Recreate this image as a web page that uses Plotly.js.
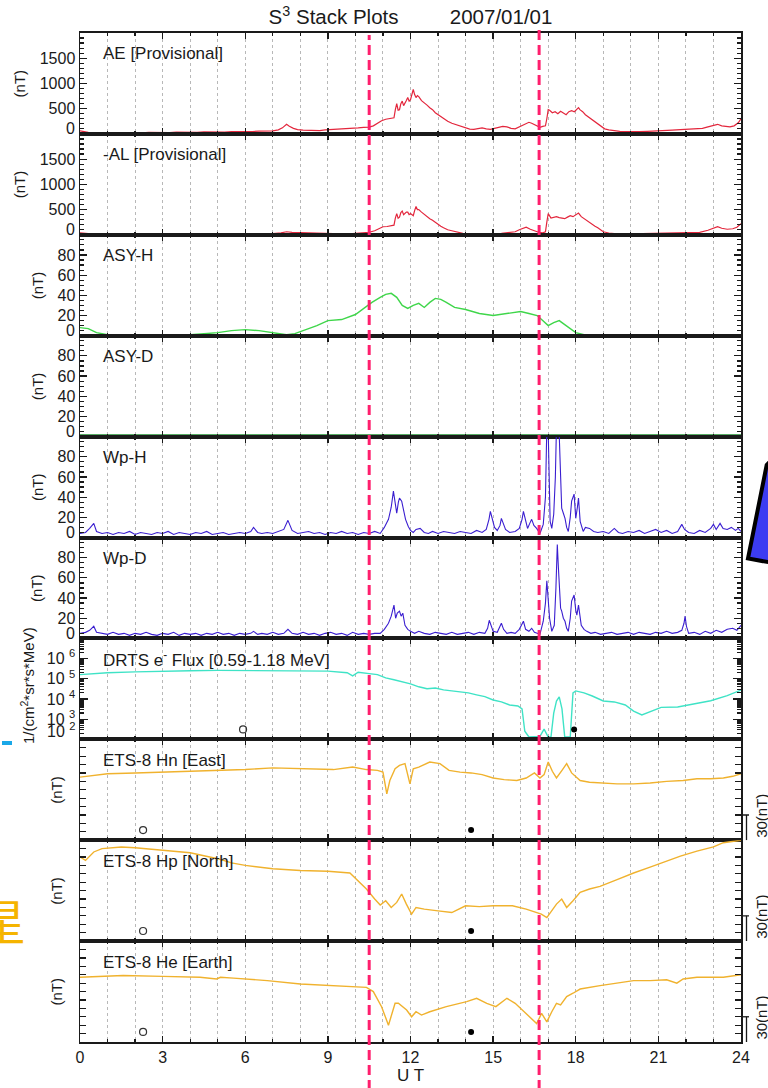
<!DOCTYPE html>
<html>
<head>
<meta charset="utf-8">
<script src="https://cdn.plot.ly/plotly-3.0.1.min.js"></script>
<style>html,body{margin:0;padding:0;background:#fff;}#chart{width:768px;height:1088px;}</style>
</head>
<body>
<div id="chart"></div>
<script>
// ---------------- DATA ----------------
const panelLabels = ["AE [Provisional]", "-AL [Provisional]", "ASY-H", "ASY-D", "Wp-H", "Wp-D",
  "DRTS e<sup>-</sup> Flux [0.59-1.18 MeV]", "ETS-8 Hn [East]", "ETS-8 Hp [North]", "ETS-8 He [Earth]"];
const xTickVals = [0, 3, 6, 9, 12, 15, 18, 21, 24];

// [UT hour, nT]
const aePts = [[0,60],[0.15,45],[0.3,30],[0.5,25],[0.75,20],[1,22],[1.25,18],[1.5,25],[1.75,20],[2,28],
  [2.25,22],[2.5,30],[2.75,25],[3,30],[3.25,28],[3.5,35],[3.75,30],[4,38],[4.25,33],[4.5,40],
  [4.75,36],[5,42],[5.25,38],[5.5,45],[5.75,42],[6,50],[6.25,46],[6.5,55],[6.75,52],[7,60],
  [7.2,80],[7.35,120],[7.5,190],[7.6,150],[7.75,110],[7.9,85],[8.1,75],[8.3,70],[8.5,75],[8.7,65],
  [8.9,80],[9.1,85],[9.3,90],[9.5,95],[9.7,105],[9.9,110],[10.1,120],[10.3,130],[10.5,135],[10.65,160],
  [10.8,210],[10.95,260],[11.1,290],[11.25,300],[11.4,320],[11.45,480],[11.5,600],[11.55,470],[11.6,480],[11.65,600],
  [11.7,650],[11.75,560],[11.8,600],[11.85,660],[11.9,720],[11.95,650],[12.0,680],[12.05,760],[12.1,880],[12.15,780],
  [12.2,720],[12.25,760],[12.3,740],[12.4,660],[12.5,620],[12.6,570],[12.7,520],[12.8,480],[12.9,420],[13.0,380],
  [13.1,340],[13.2,300],[13.35,250],[13.5,210],[13.65,180],[13.8,150],[14.0,110],[14.15,95],[14.3,90],[14.45,110],
  [14.6,120],[14.75,100],[14.9,90],[15.05,110],[15.2,130],[15.35,150],[15.5,140],[15.65,110],[15.8,100],[15.95,140],
  [16.1,170],[16.2,200],[16.3,230],[16.4,210],[16.5,180],[16.6,150],[16.7,130],[16.8,150],[16.9,160],[16.95,300],
  [17.0,480],[17.05,470],[17.15,420],[17.25,440],[17.35,400],[17.45,450],[17.5,430],[17.6,400],[17.65,380],[17.75,440],
  [17.85,460],[17.95,440],[18.05,500],[18.1,520],[18.15,480],[18.25,440],[18.35,380],[18.45,340],[18.55,300],[18.65,250],
  [18.75,210],[18.85,170],[18.95,130],[19.05,100],[19.2,80],[19.4,60],[19.6,50],[19.8,45],[20.0,40],[20.3,45],
  [20.6,50],[20.9,55],[21.2,65],[21.5,75],[21.8,85],[22.1,90],[22.4,95],[22.6,110],[22.8,140],[23.0,170],
  [23.15,190],[23.3,160],[23.45,150],[23.6,140],[23.75,160],[23.9,220],[24,300]];

const alPts = [[0,40],[0.15,30],[0.3,20],[0.5,15],[0.75,12],[1,10],[1.5,12],[2,10],[2.5,12],[3,10],
  [3.5,15],[4,12],[4.5,15],[5,14],[5.5,16],[6,20],[6.5,18],[7,25],[7.3,40],[7.5,60],
  [7.7,50],[7.9,45],[8.1,55],[8.3,50],[8.5,40],[8.8,30],[9.1,20],[9.5,20],[9.9,25],[10.2,35],
  [10.5,50],[10.7,80],[10.85,120],[11.0,160],[11.15,165],[11.3,175],[11.4,190],[11.45,330],[11.5,420],[11.55,330],
  [11.6,350],[11.65,440],[11.7,470],[11.75,400],[11.8,420],[11.85,450],[11.9,450],[11.95,400],[12.0,420],[12.05,400],
  [12.1,380],[12.15,480],[12.2,560],[12.25,500],[12.3,500],[12.4,450],[12.5,400],[12.6,360],[12.7,320],[12.8,290],
  [12.9,250],[13.0,200],[13.1,170],[13.2,140],[13.35,100],[13.5,80],[13.7,50],[13.9,30],[14.1,25],[14.4,20],
  [14.7,25],[15.0,20],[15.3,30],[15.6,40],[15.8,60],[15.95,100],[16.05,120],[16.2,150],[16.35,110],[16.5,80],
  [16.65,50],[16.8,40],[16.9,60],[16.95,250],[17.0,420],[17.1,330],[17.2,340],[17.3,360],[17.4,340],[17.5,330],
  [17.6,320],[17.7,350],[17.8,380],[17.9,360],[18.0,400],[18.1,430],[18.2,360],[18.3,320],[18.4,290],[18.5,250],
  [18.6,210],[18.7,170],[18.8,140],[18.9,100],[19.0,60],[19.2,35],[19.5,20],[20,20],[20.5,25],[21,30],
  [21.5,35],[22,40],[22.5,50],[22.8,90],[23.0,130],[23.15,160],[23.3,130],[23.5,110],[23.7,120],[23.85,150],
  [24,220]];

const asyHT = [0, 0.3, 0.6, 1, 1.5, 2, 3, 4, 4.5, 5,
  5.5, 6, 6.5, 7, 7.5, 7.8, 8.2, 8.6, 9, 9.5,
  10, 10.3, 10.6, 10.9, 11.1, 11.3, 11.5, 11.7, 11.9, 12.1,
  12.3, 12.5, 12.7, 12.9, 13.1, 13.3, 13.6, 14, 14.5, 15,
  15.5, 16, 16.3, 16.6, 16.8, 17, 17.2, 17.4, 17.6, 17.8,
  18, 18.3, 18.7, 19, 20, 21, 22, 23, 24];
const asyHV = [8, 7, 3, 1, 0, 0, 1, 1, 2, 3,
  5, 6, 5, 3, 1, 2, 6, 10, 15, 16,
  21, 27, 33, 38, 41, 42, 38, 30, 27, 30,
  32, 28, 33, 37, 36, 33, 28, 26, 22, 20,
  22, 24, 22, 20, 15, 10, 13, 15, 11, 7,
  3, 1, 1, 1, 1, 1, 1, 1, 1];

const asyDT = [0, 3, 6, 9, 12, 15, 18, 21, 24];
const asyDV = [1.5, 1.5, 1.5, 1.5, 1.5, 1.5, 1.5, 1.5, 1.5];

const wpHPts = [[0,4],[0.2,5],[0.35,9],[0.5,14],[0.6,6],[0.8,4],[1.0,5],[1.2,3],[1.4,5],[1.6,4],
  [1.8,6],[2.0,3],[2.2,5],[2.4,4],[2.6,3],[2.8,5],[3.0,4],[3.2,6],[3.4,3],[3.6,5],
  [3.8,4],[4.0,3],[4.2,5],[4.4,4],[4.6,6],[4.8,3],[5.0,4],[5.2,5],[5.4,3],[5.6,4],
  [5.8,5],[6.0,4],[6.2,6],[6.3,10],[6.45,5],[6.6,4],[6.8,5],[7.0,4],[7.2,6],[7.4,8],
  [7.55,17],[7.7,7],[7.9,4],[8.1,5],[8.3,6],[8.5,4],[8.7,5],[8.9,3],[9.1,5],[9.3,4],
  [9.5,6],[9.7,4],[9.9,5],[10.1,3],[10.3,5],[10.5,4],[10.7,6],[10.9,4],[11.05,10],[11.2,18],
  [11.3,30],[11.38,46],[11.45,30],[11.5,24],[11.56,35],[11.6,39],[11.68,36],[11.74,29],[11.82,18],[11.92,11],
  [12.0,7],[12.1,5],[12.2,8],[12.35,9],[12.5,5],[12.65,4],[12.8,6],[13.0,4],[13.2,6],[13.4,5],
  [13.6,4],[13.8,6],[14.0,5],[14.2,4],[14.4,7],[14.6,5],[14.75,8],[14.85,18],[14.9,26],[14.97,18],
  [15.05,10],[15.15,7],[15.25,12],[15.3,19],[15.38,12],[15.45,8],[15.6,5],[15.8,6],[15.95,9],[16.05,18],
  [16.1,26],[16.18,15],[16.25,9],[16.33,14],[16.4,18],[16.48,12],[16.58,9],[16.7,4],[16.82,13],[16.9,40],
  [16.95,110],[17.0,105],[17.04,40],[17.07,16],[17.13,9],[17.2,23],[17.26,60],[17.3,110],[17.39,110],[17.45,50],
  [17.49,29],[17.55,24],[17.61,19],[17.67,10],[17.73,6],[17.8,20],[17.85,36],[17.94,43],[18.0,19],[18.06,30],
  [18.1,39],[18.16,16],[18.22,10],[18.27,6],[18.35,10],[18.5,9],[18.65,6],[18.8,5],[19.0,6],[19.2,4],
  [19.4,9],[19.55,5],[19.7,4],[19.9,6],[20.1,5],[20.3,7],[20.5,4],[20.7,6],[20.9,8],[21.1,5],
  [21.3,7],[21.5,4],[21.7,6],[21.85,13],[21.95,8],[22.1,5],[22.3,4],[22.5,7],[22.7,5],[22.9,9],
  [23.0,13],[23.1,8],[23.24,14],[23.35,9],[23.5,8],[23.65,10],[23.8,7],[23.9,9],[24,6]];

const wpDPts = [[0,5],[0.2,6],[0.35,8],[0.5,12],[0.6,6],[0.8,5],[1.0,4],[1.2,6],[1.4,4],[1.6,5],
  [1.8,3],[2.0,5],[2.2,4],[2.4,6],[2.6,4],[2.8,3],[3.0,5],[3.2,4],[3.4,6],[3.6,3],
  [3.8,5],[4.0,4],[4.2,5],[4.4,3],[4.6,5],[4.8,4],[5.0,6],[5.2,4],[5.4,5],[5.6,3],
  [5.8,5],[6.0,4],[6.2,5],[6.3,7],[6.45,4],[6.6,5],[6.8,4],[7.0,6],[7.2,4],[7.4,5],
  [7.55,9],[7.7,5],[7.9,4],[8.1,6],[8.3,4],[8.5,5],[8.7,3],[8.9,5],[9.1,6],[9.3,4],
  [9.5,5],[9.7,3],[9.9,6],[10.1,4],[10.3,5],[10.5,4],[10.7,5],[10.9,5],[11.05,9],[11.2,15],
  [11.3,22],[11.4,33],[11.46,20],[11.52,25],[11.6,27],[11.66,22],[11.72,25],[11.8,13],[11.9,9],[12.0,7],
  [12.15,5],[12.3,7],[12.5,5],[12.7,4],[12.9,6],[13.1,5],[13.3,4],[13.5,6],[13.7,4],[13.9,5],
  [14.1,6],[14.3,4],[14.5,6],[14.7,5],[14.8,10],[14.86,18],[14.93,12],[15.0,7],[15.15,6],[15.25,12],
  [15.3,15],[15.38,9],[15.5,5],[15.65,6],[15.8,5],[15.95,9],[16.05,14],[16.1,17],[16.18,9],[16.3,7],
  [16.4,10],[16.5,6],[16.6,5],[16.7,4],[16.82,17],[16.9,35],[16.95,57],[17.0,35],[17.05,20],[17.13,7],
  [17.22,13],[17.28,50],[17.33,93],[17.37,70],[17.4,50],[17.45,30],[17.49,27],[17.55,20],[17.61,17],[17.67,10],
  [17.73,7],[17.8,20],[17.85,37],[17.94,43],[18.0,28],[18.04,23],[18.1,33],[18.16,20],[18.2,13],[18.3,9],
  [18.4,7],[18.55,5],[18.7,6],[18.9,4],[19.1,5],[19.3,6],[19.5,4],[19.7,5],[19.9,6],[20.1,4],
  [20.3,6],[20.5,5],[20.7,4],[20.9,6],[21.1,5],[21.3,7],[21.5,5],[21.7,6],[21.85,8],[21.93,15],
  [21.97,22],[22.02,12],[22.1,5],[22.3,6],[22.5,4],[22.7,7],[22.9,5],[23.1,8],[23.3,6],[23.5,9],
  [23.7,10],[23.85,8],[24,13]];

const drtsT = [0, 1, 2, 3, 4, 5, 6, 7, 8, 9,
  9.7, 9.9, 10.1, 10.3, 10.5, 10.8, 11.1, 11.4, 11.7, 12.0,
  12.3, 12.6, 12.9, 13.2, 13.5, 13.8, 14.1, 14.4, 14.7, 15.0,
  15.3, 15.6, 15.9, 16.05, 16.15, 16.3, 16.5, 16.7, 16.85, 17.0,
  17.1, 17.2, 17.3, 17.4, 17.5, 17.6, 17.7, 17.8, 17.9, 18.0,
  18.3, 18.6, 19.0, 19.4, 19.8, 20.1, 20.4, 20.8, 21.1, 21.7,
  22.3, 22.9, 23.5, 24];
const drtsFlux = [1.6e5, 2.0e5, 2.2e5, 2.4e5, 2.5e5, 2.6e5, 2.6e5, 2.6e5, 2.5e5, 2.4e5,
  2.0e5, 1.4e5, 2.1e5, 2.0e5, 1.8e5, 1.6e5, 1.1e5, 8.9e4, 7.1e4, 5.6e4,
  4.0e4, 3.2e4, 3.5e4, 2.8e4, 2.5e4, 2.2e4, 2.0e4, 1.6e4, 1.3e4, 8.9e3,
  7.1e3, 5.0e3, 4.5e3, 3.2e3, 250, 130, 130, 140, 320, 130,
  130, 2.0e3, 7.9e3, 1.26e4, 3.2e3, 130, 130, 130, 2.0e4, 2.5e4,
  2.0e4, 1.4e4, 7.9e3, 7.1e3, 5.0e3, 2.5e3, 1.6e3, 2.5e3, 3.8e3, 4.0e3,
  5.6e3, 8.1e3, 1.45e4, 2.75e4];

const hnT = [0, 0.5, 1, 2, 3, 3.9, 5, 6, 7, 8,
  9.2, 9.9, 10.4, 10.8, 11.0, 11.14, 11.25, 11.44, 11.6, 11.8,
  11.98, 12.1, 12.3, 12.7, 13.07, 13.4, 13.8, 14.2, 14.6, 15.0,
  15.4, 15.86, 16.2, 16.5, 16.7, 16.85, 17.0, 17.15, 17.3, 17.5,
  17.67, 17.85, 18.16, 18.5, 18.9, 19.5, 20.1, 20.7, 21.3, 21.9,
  22.4, 22.9, 23.36, 23.7, 24];
const hnV = [75, 77, 79, 80, 81, 82, 83, 84, 86, 85,
  84, 87, 84, 83, 81, 55, 71, 85, 89, 91,
  67, 85, 87, 93, 91, 83, 81, 80, 78, 74,
  72, 71, 74, 80, 74, 78, 93, 82, 74, 83,
  91, 80, 71, 69, 68, 67, 67, 68, 70, 71,
  73, 73, 74, 76, 79];

const hpT = [0, 0.2, 0.5, 0.8, 1.5, 2, 3, 4, 5, 5.5,
  6, 7, 8, 9, 9.8, 10.1, 10.4, 10.7, 10.9, 11.1,
  11.3, 11.5, 11.68, 11.85, 12.04, 12.2, 12.5, 13, 13.5, 14,
  14.5, 15, 15.7, 16.2, 16.58, 16.75, 16.95, 17.13, 17.3, 17.49,
  17.67, 17.9, 18.16, 18.5, 18.88, 19.5, 20.1, 20.7, 21.3, 21.8,
  22.4, 23, 23.36, 23.7, 24];
const hpV = [100, 96, 106, 110, 112, 111, 108, 105, 98, 93,
  90, 86, 84, 83, 81, 72, 62, 50, 43, 48,
  40, 46, 56, 44, 32, 40, 38, 36, 34, 42,
  41, 42, 42, 38, 34, 32, 28, 36, 44, 50,
  40, 48, 58, 62, 65, 73, 81, 88, 95, 101,
  107, 112, 117, 119, 120];

const heT = [0, 1.57, 3, 4.36, 4.96, 5.1, 5.57, 6.8, 8, 9.2,
  10, 10.4, 10.65, 10.95, 11.2, 11.35, 11.44, 11.56, 11.7, 11.86,
  12.04, 12.2, 12.4, 12.7, 13.3, 14.04, 14.4, 14.77, 15.1, 15.5,
  15.8, 16.2, 16.58, 16.76, 16.95, 17.13, 17.3, 17.45, 17.67, 17.9,
  18.16, 18.88, 19.5, 20.1, 20.7, 21.3, 21.67, 21.9, 22.4, 23.36,
  24];
const heV = [77, 79, 78, 77, 75, 77, 76, 73, 69, 67,
  66, 65, 60, 42, 20, 38, 46, 46, 42, 38,
  30, 36, 32, 36, 42, 48, 52, 46, 42, 52,
  46, 34, 22, 34, 24, 36, 46, 44, 54, 58,
  63, 67, 70, 73, 73, 74, 70, 75, 77, 77,
  80];

// local-time markers (open / filled) in panels DRTS, Hn, Hp, He
const openMarkX = [5.92, 2.29, 2.29, 2.29];
const openMarkY = [310, 12, 12, 12];
const dotMarkX = [17.94, 14.2, 14.2, 14.2];
const dotMarkY = [310, 12, 12, 12];

// event times marked by the dashed lines (UT hours)
const eventTimes = [10.5, 16.67];
const scaleBarNT = 30;

// ---------------- STYLE ----------------
const FONT = 'Liberation Sans, Arial, Helvetica, sans-serif';
const INK = '#1a1a1a';
const N = 10;
const W = 768, H = 1088;
const M = {l: 80, r: 27, t: 33, b: 46};
const plotH = H - M.t - M.b;
const plotW = W - M.l - M.r;
const pxX = px => (px - M.l) / plotW;            // page px -> paper x
const pxY = py => (H - M.b - py) / plotH;        // page px -> paper y
const dom = i => [1 - (i + 1) / N, 1 - i / N];
const col = (pts, k) => pts.map(p => p[k]);

const traces = [];
function line(i, x, y, color, width) {
  traces.push({x: x, y: y, type: 'scatter', mode: 'lines', xaxis: 'x' + (i + 1), yaxis: 'y' + (i + 1),
    line: {color: color, width: width || 1.2}, hoverinfo: 'skip', showlegend: false});
}
line(0, col(aePts, 0), col(aePts, 1), '#e3263c');
line(1, col(alPts, 0), col(alPts, 1), '#e3263c');
line(2, asyHT, asyHV, '#3fd64a', 1.4);
line(3, asyDT, asyDV, '#1f8f30', 1.6);
line(4, col(wpHPts, 0), col(wpHPts, 1), '#3a1ed0', 1.1);
line(5, col(wpDPts, 0), col(wpDPts, 1), '#3a1ed0', 1.1);
line(6, drtsT, drtsFlux, '#3fe3c6', 1.4);
line(7, hnT, hnV, '#f0b22e', 1.4);
line(8, hpT, hpV, '#f0b22e', 1.4);
line(9, heT, heV, '#f0b22e', 1.4);

for (let k = 0; k < openMarkX.length; k++) {
  const i = 6 + k;
  traces.push({x: [openMarkX[k]], y: [openMarkY[k]], type: 'scatter', mode: 'markers',
    xaxis: 'x' + (i + 1), yaxis: 'y' + (i + 1), cliponaxis: false,
    marker: {symbol: 'circle-open', size: 7, color: '#333', line: {width: 1.2, color: '#333'}},
    hoverinfo: 'skip', showlegend: false});
  traces.push({x: [dotMarkX[k]], y: [dotMarkY[k]], type: 'scatter', mode: 'markers',
    xaxis: 'x' + (i + 1), yaxis: 'y' + (i + 1), cliponaxis: false,
    marker: {symbol: 'circle', size: 6, color: '#000'},
    hoverinfo: 'skip', showlegend: false});
}

const layout = {
  width: W, height: H, margin: M, paper_bgcolor: '#fff', plot_bgcolor: '#fff',
  showlegend: false, font: {family: FONT, color: INK, size: 15},
  title: {text: 'S<sup>3</sup> Stack Plots' + '\u00a0'.repeat(9) + '2007/01/01',
    font: {family: FONT, size: 20.5, color: INK}, x: 0.5, xref: 'paper', xanchor: 'center',
    y: 1 - 17 / H, yref: 'container', yanchor: 'middle'},
  shapes: [], annotations: []
};

const tickFont = {family: FONT, size: 16, color: INK};
for (let i = 0; i < N; i++) {
  const n = i + 1;
  const xa = {domain: [0, 1], anchor: 'y' + n, range: [0, 24], tickmode: 'array', tickvals: xTickVals,
    ticks: 'inside', ticklen: 6, tickwidth: 1.3, tickcolor: INK, showline: true, linecolor: INK,
    linewidth: 2, mirror: 'ticks', showgrid: false, zeroline: false, showticklabels: n === N,
    tickfont: tickFont, fixedrange: true,
    minor: {dtick: 1, tick0: 0, ticks: 'inside', ticklen: 3, tickcolor: INK, showgrid: true,
      gridcolor: '#b8b8b8', griddash: 'dot', gridwidth: 1}};
  if (n > 1) xa.matches = 'x';
  if (n === N) xa.title = {text: 'U T', font: {family: FONT, size: 17, color: INK}, standoff: 3};
  layout['xaxis' + n] = xa;

  const ya = {domain: dom(i), anchor: 'x' + n, showline: true, linecolor: INK, linewidth: 1.5,
    mirror: 'ticks', ticks: 'inside', tickcolor: INK, tickwidth: 1.2, showgrid: false, zeroline: false,
    tickfont: tickFont, fixedrange: true};
  if (i < 2) {
    Object.assign(ya, {range: [0, 2000], tickmode: 'array', tickvals: [0, 500, 1000, 1500, 2000],
      ticktext: ['', '500', '1000', '1500', ''], ticklen: 7,
      minor: {dtick: 100, tick0: 0, ticks: 'inside', ticklen: 4, tickcolor: INK}});
  } else if (i < 6) {
    Object.assign(ya, {range: [0, 100], tickmode: 'array', tickvals: [0, 20, 40, 60, 80, 100],
      ticktext: ['', '20', '40', '60', '80', ''], ticklen: 7,
      minor: {dtick: 5, tick0: 0, ticks: 'inside', ticklen: 4, tickcolor: INK}});
  } else if (i === 6) {
    Object.assign(ya, {type: 'log', range: [2, 7], tickmode: 'array',
      tickvals: [1e2, 1e3, 1e4, 1e5, 1e6, 1e7],
      ticktext: ['', '10 <sup>3</sup>', '10 <sup>4</sup>', '10 <sup>5</sup>', '10 <sup>6</sup>', ''],
      ticklen: 8, minor: {dtick: 'D1', ticks: 'inside', ticklen: 4, tickcolor: INK}});
  } else {
    Object.assign(ya, {range: [0, 120], tickmode: 'linear', tick0: 0, dtick: 10, ticklen: 6,
      showticklabels: false});
  }
  layout['yaxis' + n] = ya;

  // panel label
  layout.annotations.push({text: panelLabels[i], xref: 'paper', yref: 'paper', x: pxX(101),
    y: dom(i)[1] - 21 / plotH, xanchor: 'left', yanchor: 'middle', showarrow: false,
    font: {family: FONT, size: 17, color: INK}});
}

// raised "0" labels (bottom tick of each linear panel) and bottom decade label
for (let i = 0; i < 6; i++) {
  layout.annotations.push({text: '0', xref: 'paper', yref: 'y' + (i + 1), x: 0, y: 0,
    xanchor: 'right', yanchor: 'middle', xshift: -3, yshift: 5, showarrow: false, font: tickFont});
}
layout.annotations.push({text: '10 <sup>2</sup>', xref: 'paper', yref: 'y7', x: 0, y: 2,
  xanchor: 'right', yanchor: 'middle', xshift: -3, yshift: 9, showarrow: false, font: tickFont});

// y-axis titles
const yTitleX = [19, 19, 37, 37, 37, 37, 27, 57, 57, 57];
for (let i = 0; i < N; i++) {
  const txt = i === 6 ? '1/(cm<sup>2</sup>*sr*s*MeV)' : '(nT)';
  const yc = i === 6 ? pxY(685) : (dom(i)[0] + dom(i)[1]) / 2;
  layout.annotations.push({text: txt, xref: 'paper', yref: 'paper', x: pxX(yTitleX[i]), y: yc,
    textangle: -90, xanchor: 'center', yanchor: 'middle', showarrow: false,
    font: {family: FONT, size: 15, color: INK}});
}

// 30 nT scale bars on the ETS-8 panels
for (let i = 7; i < 10; i++) {
  const yr = 'y' + (i + 1);
  layout.shapes.push({type: 'line', xref: 'paper', yref: yr, x0: pxX(746.5), x1: pxX(746.5), y0: 0, y1: scaleBarNT,
    line: {color: INK, width: 1.3}});
  layout.shapes.push({type: 'line', xref: 'paper', yref: yr, x0: pxX(741.5), x1: pxX(749), y0: scaleBarNT, y1: scaleBarNT,
    line: {color: INK, width: 1.3}});
  layout.annotations.push({text: '30(nT)', xref: 'paper', yref: yr, x: pxX(762), y: 29,
    textangle: -90, xanchor: 'center', yanchor: 'middle', showarrow: false,
    font: {family: FONT, size: 15, color: INK}});
}

// dashed event lines
const evTop = [pxY(35), pxY(28)];
eventTimes.forEach((t, k) => {
  layout.shapes.push({type: 'line', xref: 'x', yref: 'paper', x0: t, x1: t, y0: pxY(H + 2), y1: evTop[k],
    line: {color: '#ff1f6d', width: 3, dash: '10px,5px'}, layer: 'above'});
});

// slide remnants around the figure
layout.shapes.push({type: 'path', xref: 'paper', yref: 'paper',
  path: `M ${pxX(766.7)},${pxY(465)} L ${pxX(748)},${pxY(558.5)} L ${pxX(790)},${pxY(566)} L ${pxX(790)},${pxY(440)} Z`,
  fillcolor: '#3c3cf2', line: {color: '#000', width: 4}, layer: 'above'});
layout.shapes.push({type: 'line', xref: 'paper', yref: 'paper', x0: pxX(2), x1: pxX(12), y0: pxY(743), y1: pxY(743),
  line: {color: '#1aa8e8', width: 4}});
layout.annotations.push({text: '星', xref: 'paper', yref: 'paper', x: pxX(2), y: pxY(919),
  xanchor: 'center', yanchor: 'middle', showarrow: false,
  font: {family: 'Noto Sans CJK SC, Noto Sans CJK JP, sans-serif', size: 48, color: '#f5b400'}});

Plotly.newPlot('chart', traces, layout, {staticPlot: true, displayModeBar: false});
</script>
</body>
</html>
